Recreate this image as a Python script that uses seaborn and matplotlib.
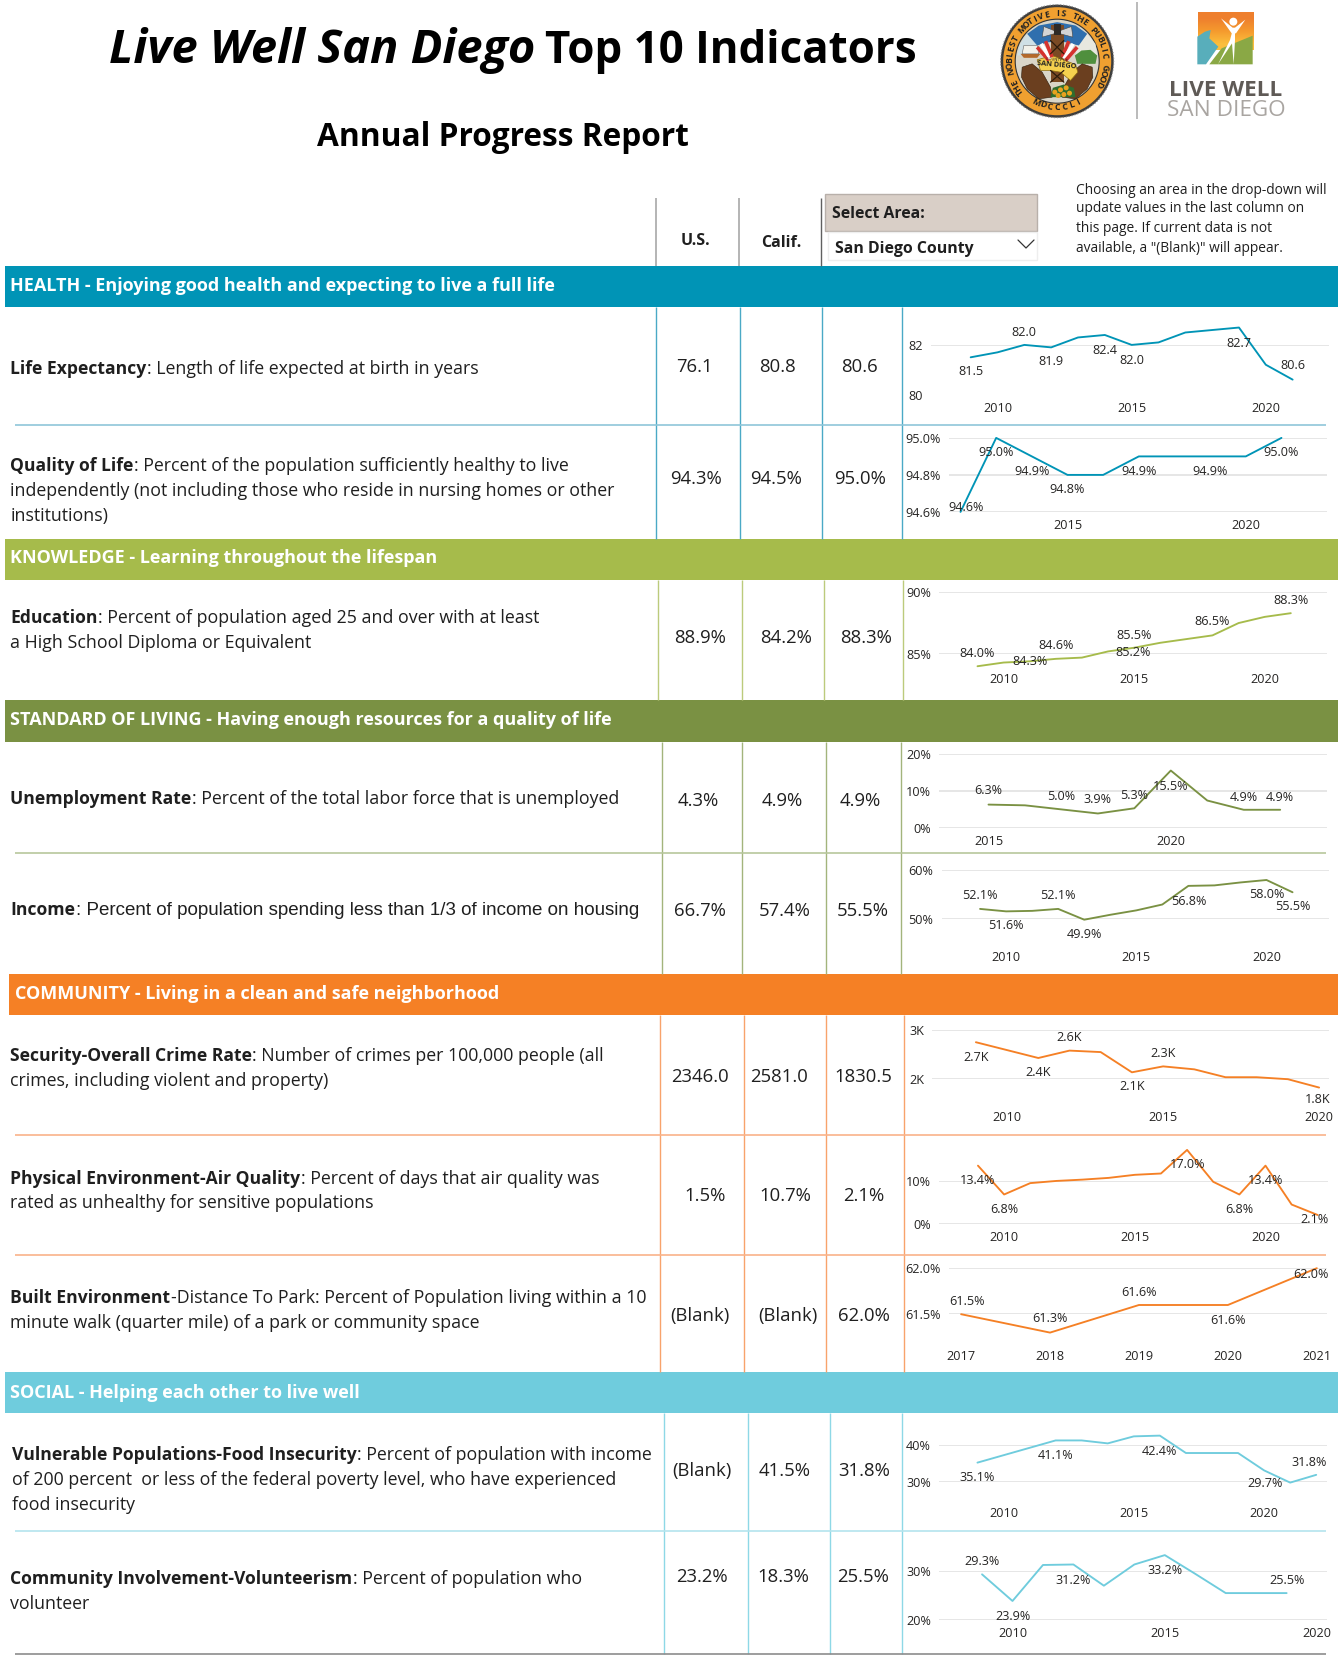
import math
import matplotlib
matplotlib.use("Agg")
import matplotlib.pyplot as plt
from matplotlib.patches import Rectangle, Ellipse, Polygon
from matplotlib.colors import LinearSegmentedColormap
import seaborn as sns

# ---------- data ----------
life_years = list(range(2009, 2022))
life_values = [81.5, 81.7, 82.0, 81.9, 82.3, 82.4, 82.0, 82.1, 82.5, 82.6, 82.7, 81.2, 80.6]
life_label_years = [2009, 2011, 2012, 2014, 2015, 2019, 2021]
life_label_texts = ["81.5", "82.0", "81.9", "82.4", "82.0", "82.7", "80.6"]

qol_years = list(range(2012, 2022))
qol_values = [94.6, 95.0, 94.9, 94.8, 94.8, 94.9, 94.9, 94.9, 94.9, 95.0]
qol_label_years = [2012, 2013, 2014, 2015, 2017, 2019, 2021]
qol_label_texts = ["94.6%", "95.0%", "94.9%", "94.8%", "94.9%", "94.9%", "95.0%"]

edu_years = list(range(2009, 2022))
edu_values = [84.0, 84.3, 84.4, 84.6, 84.7, 85.2, 85.5, 85.9, 86.2, 86.5, 87.5, 88.0, 88.3]
edu_label_years = [2009, 2011, 2012, 2014, 2015, 2018, 2021]
edu_label_texts = ["84.0%", "84.3%", "84.6%", "85.2%", "85.5%", "86.5%", "88.3%"]

unemp_years = list(range(2015, 2024))
unemp_values = [6.3, 6.1, 5.0, 3.9, 5.3, 15.5, 7.4, 4.9, 4.9]
unemp_label_years = [2015, 2017, 2018, 2019, 2020, 2022, 2023]
unemp_label_texts = ["6.3%", "5.0%", "3.9%", "5.3%", "15.5%", "4.9%", "4.9%"]

income_years = list(range(2009, 2022))
income_values = [52.1, 51.6, 51.7, 52.1, 49.9, 50.9, 51.8, 53.0, 56.8, 56.9, 57.5, 58.0, 55.5]
income_label_years = [2009, 2010, 2012, 2013, 2017, 2020, 2021]
income_label_texts = ["52.1%", "51.6%", "52.1%", "49.9%", "56.8%", "58.0%", "55.5%"]

crime_years = list(range(2009, 2021))
crime_values = [2750, 2590, 2430, 2580, 2550, 2140, 2260, 2200, 2040, 2040, 2000, 1830.5]
crime_label_years = [2009, 2011, 2012, 2014, 2015, 2020]
crime_label_texts = ["2.7K", "2.4K", "2.6K", "2.1K", "2.3K", "1.8K"]

air_years = list(range(2009, 2023))
air_values = [13.4, 6.8, 9.4, 9.9, 10.2, 10.6, 11.3, 11.6, 17.0, 9.7, 6.8, 13.4, 4.5, 2.1]
air_label_years = [2009, 2010, 2017, 2019, 2020, 2022]
air_label_texts = ["13.4%", "6.8%", "17.0%", "6.8%", "13.4%", "2.1%"]

park_years = [2017, 2018, 2019, 2020, 2021]
park_values = [61.5, 61.3, 61.6, 61.6, 62.0]
park_label_years = [2017, 2018, 2019, 2020, 2021]
park_label_texts = ["61.5%", "61.3%", "61.6%", "61.6%", "62.0%"]

food_years = list(range(2009, 2023))
food_values = [35.1, 37.1, 39.1, 41.1, 41.1, 40.3, 42.2, 42.4, 37.7, 37.7, 37.7, 33.0, 29.7, 31.8]
food_label_years = [2009, 2012, 2016, 2021, 2022]
food_label_texts = ["35.1%", "41.1%", "42.4%", "29.7%", "31.8%"]

vol_years = list(range(2009, 2020))
vol_values = [29.3, 23.9, 31.2, 31.3, 27.0, 31.3, 33.2, 29.4, 25.5, 25.5, 25.5]
vol_label_years = [2009, 2010, 2012, 2015, 2019]
vol_label_texts = ["29.3%", "23.9%", "31.2%", "33.2%", "25.5%"]

section_titles = [
    "HEALTH - Enjoying good health and expecting to live a full life",
    "KNOWLEDGE - Learning throughout the lifespan",
    "STANDARD OF LIVING - Having enough resources for a quality of life",
    "COMMUNITY - Living in a clean and safe neighborhood",
    "SOCIAL - Helping each other to live well",
]
us_cells = ["76.1", "94.3%", "88.9%", "4.3%", "66.7%", "2346.0", "1.5%", "(Blank)", "(Blank)", "23.2%"]
ca_cells = ["80.8", "94.5%", "84.2%", "4.9%", "57.4%", "2581.0", "10.7%", "(Blank)", "41.5%", "18.3%"]
sd_cells = ["80.6", "95.0%", "88.3%", "4.9%", "55.5%", "1830.5", "2.1%", "62.0%", "31.8%", "25.5%"]
row_bold = ["Life Expectancy", "Quality of Life", "Education", "Unemployment Rate", "Income",
            "Security-Overall Crime Rate", "Physical Environment-Air Quality", "Built Environment",
            "Vulnerable Populations-Food Insecurity", "Community Involvement-Volunteerism"]
row_lines = [
    [": Length of life expected at birth in years"],
    [": Percent of the population sufficiently healthy to live",
     "independently (not including those who reside in nursing homes or other", "institutions)"],
    [": Percent of population aged 25 and over with at least", "a High School Diploma or Equivalent"],
    [": Percent of the total labor force that is unemployed"],
    [": Percent of population spending less than 1/3 of income on housing"],
    [": Number of crimes per 100,000 people (all", "crimes, including violent and property)"],
    [": Percent of days that air quality was", "rated as unhealthy for sensitive populations"],
    ["-Distance To Park: Percent of Population living within a 10",
     "minute walk (quarter mile) of a park or community space"],
    [": Percent of population with income",
     "of 200 percent  or less of the federal poverty level, who have experienced", "food insecurity"],
    [": Percent of population who", "volunteer"],
]
note_lines = ["Choosing an area in the drop-down will", "update values in the last column on",
              'this page. If current data is not', 'available, a "(Blank)" will appear.']

# ---------- style ----------
sns.set_theme(style="white")
FONT = "Open Sans"
plt.rcParams["font.family"] = [FONT, "DejaVu Sans"]
W, H = 1342, 1660
TXT = "#1f1f1f"
CH = "#252423"
GRID = "#e3e3e3"
TEAL, LIME, OLIVE, ORANGE, SKY = "#0094b6", "#a6bb4b", "#7a9143", "#f58025", "#6fccdd"

fig = plt.figure(figsize=(W / 100, H / 100), dpi=100, facecolor="white")
bg = fig.add_axes([0, 0, 1, 1], zorder=0)
bg.set_xlim(0, W)
bg.set_ylim(H, 0)
bg.axis("off")
renderer = fig.canvas.get_renderer()


def band(x0, y0, y1, color, title, tx, ty):
    bg.add_patch(Rectangle((x0, y0), 1338 - x0, y1 - y0, fc=color, ec="none"))
    bg.text(tx, ty, title, color="white", fontsize=13.0, fontweight="bold", va="center", ha="left")


band(5, 266, 307, TEAL, section_titles[0], 10.5, 286)
band(5, 539, 580, LIME, section_titles[1], 10.5, 558)
band(5, 700, 742, OLIVE, section_titles[2], 10.5, 720)
band(9, 974, 1015, ORANGE, section_titles[3], 14.7, 994)
band(5, 1372, 1413, SKY, section_titles[4], 10.5, 1392.5)

# section vertical rules
for xs, y0, y1, c in [((656, 740, 822, 902), 307, 539, "#4aa9c6"),
                      ((658, 742, 824, 902.6), 580, 700, "#bccb7c"),
                      ((662, 742, 826, 901), 742, 974, "#a3b47c"),
                      ((660, 743.5, 826, 904), 1015, 1372, "#f8a36b"),
                      ((664, 748, 830, 902), 1413, 1654, "#8ed8e6")]:
    bg.vlines(xs, y0, y1, color=c, lw=1.0)
# row dividers
for y, c in [(425, "#8fc6d9"), (853, "#b7c79c"), (1135, "#fab38a"), (1255, "#fab38a"), (1531, "#b4e4ed")]:
    bg.hlines(y, 15, 1326, color=c, lw=1.2)
bg.hlines(1654, 15, 1326, color="#8c8c8c", lw=1.2)

# row text
row_x = [10.5] * 8 + [12.3, 10.5]
row_y = [[369], [466, 491, 516], [618, 643], [799], [910], [1056, 1081], [1179, 1203], [1298, 1322.5],
         [1454.5, 1479.5, 1504.5], [1579, 1604]]
for i, (b, lines) in enumerate(zip(row_bold, row_lines)):
    x, ys = row_x[i], row_y[i]
    t = bg.text(x, ys[0], b, color=TXT, fontsize=12.6, fontweight="bold", va="center", ha="left")
    ext = t.get_window_extent(renderer)
    if b == "Income":
        bg.text(ext.x1, ys[0], lines[0], color=TXT, fontsize=13.5, va="center", ha="left", family=["Liberation Sans"])
    else:
        bg.text(ext.x1, ys[0], lines[0], color=TXT, fontsize=12.8, va="center", ha="left")
    for ln, y in zip(lines[1:], ys[1:]):
        bg.text(x, y, ln, color=TXT, fontsize=12.8, va="center", ha="left")

# table cells
cell_x = [(694, 778, 860), (696, 776, 860), (700, 786, 866), (698, 782, 860), (700, 785, 863),
          (700, 779, 863), (705, 785, 864), (700, 788, 864), (702, 785, 864.5), (702, 783, 863)]
cell_y = [367, 478.5, 637.5, 801, 911, 1077, 1196, 1316, 1470.5, 1577]
for xs, y, a, b, c in zip(cell_x, cell_y, us_cells, ca_cells, sd_cells):
    for x, s in zip(xs, (a, b, c)):
        bg.text(x, y, s, color=TXT, fontsize=13.3, ha="center", va="center")

# header
bg.text(109.3, 51, "Live Well San Diego", fontsize=33.8, fontweight="bold", style="italic",
        color="black", va="center", ha="left")
bg.text(545.3, 51, "Top 10 Indicators", fontsize=31.6, fontweight="bold", color="black", va="center", ha="left")
bg.text(503, 137, "Annual Progress Report", fontsize=22.8, fontweight="bold", color="black", va="center", ha="center")
bg.vlines([656, 739], 198, 266, color="#a8a8a8", lw=1.2)
bg.vlines([821], 198, 266, color="#606060", lw=1.0)
bg.text(695, 241, "U.S.", fontsize=11.5, fontweight="bold", color=TXT, ha="center", va="center")
bg.text(781, 243, "Calif.", fontsize=11.5, fontweight="bold", color=TXT, ha="center", va="center")
bg.add_patch(Rectangle((824.5, 194), 212, 37, fc="#d9cfc7", ec="#b8b0aa", lw=1))
bg.text(832, 214.5, "Select Area:", fontsize=11.3, fontweight="bold", color=TXT, ha="left", va="center")
bg.add_patch(Rectangle((828, 232), 209, 28, fc="white", ec="#eeeeee", lw=1))
bg.text(835, 249, "San Diego County", fontsize=11.45, fontweight="bold", color=TXT, ha="left", va="center")
bg.plot([1018, 1026, 1034], [240, 248, 240], color="#333333", lw=0.9)
for ln, y in zip(note_lines, [190, 208, 228, 249]):
    bg.text(1075.5, y, ln, fontsize=9.95, color=TXT, ha="left", va="center")


# seal (decoration) — S maps local artwork units to page pixels
def S(pts):
    return [(995.5 + a / 3, 0.5 + b / 3) for a, b in pts]


cx, cy = 1057.2, 61.2
bg.add_patch(Ellipse((cx, cy), 113, 113, fc="#3d3d3d", ec="#8a8a8a", lw=0.8, ls=":"))
bg.add_patch(Ellipse((cx, cy), 108, 108, fc="#f0a030", ec="none"))
bg.add_patch(Ellipse((cx, cy), 84, 84, fc="#d9d5c8", ec="#333333", lw=0.8))
bg.add_patch(Polygon(S([(75, 128), (95, 100), (125, 135), (130, 165), (65, 165)]), fc="#cfe0e6", ec="none"))
bg.add_patch(Polygon(S([(245, 125), (275, 100), (300, 130), (305, 165), (240, 165)]), fc="#e8e8df", ec="none"))
bg.add_patch(Polygon(S([(95, 100), (130, 75), (185, 65), (240, 75), (275, 100), (250, 135), (210, 125), (160, 125), (125, 135)]),
                     fc="#2f6fae", ec="none"))
for p, q, c in [((125, 140), (160, 180), "#d5322e"), ((137, 130), (165, 175), "#ffffff"), ((150, 122), (170, 170), "#d5322e"),
                ((220, 122), (200, 170), "#d5322e"), ((233, 130), (205, 175), "#ffffff"), ((245, 140), (210, 180), "#d5322e")]:
    (a, b), (c2, d) = S([p, q])
    bg.plot([a, c2], [b, d], color=c, lw=2.6, solid_capstyle="butt")
bg.add_patch(Polygon(S([(238, 165), (258, 150), (285, 148), (305, 165), (300, 190), (245, 190)]), fc="#4f8f3d", ec="none"))
bg.add_patch(Polygon(S([(75, 160), (135, 160), (125, 172), (85, 172)]), fc="#b5692a", ec="none"))
bg.add_patch(Polygon(S([(85, 135), (125, 135), (130, 160), (80, 160)]), fc="#f1f1ea", ec="#666666", lw=0.4))
bg.add_patch(Polygon(S([(165, 75), (205, 75), (205, 245), (165, 245)]), fc="#7a4a24", ec="none"))
for p, q in [((165, 120), (205, 160)), ((205, 120), (165, 160)), ((165, 210), (205, 245)), ((205, 210), (165, 245))]:
    (a, b), (c2, d) = S([p, q])
    bg.plot([a, c2], [b, d], color="#2e1c0c", lw=0.9)
bg.add_patch(Polygon(S([(145, 78), (175, 90), (195, 90), (228, 78), (232, 110), (195, 100), (175, 100), (140, 110)]),
                     fc="#d4d4d4", ec="#444444", lw=0.4))
bg.add_patch(Polygon(S([(175, 70), (195, 70), (195, 105), (175, 105)]), fc="#2e2a26", ec="none"))
left_horn = [(80, 200), (110, 190), (140, 215), (165, 260), (170, 290), (130, 295), (95, 265), (78, 230)]
right_horn = [(370 - a, b) for a, b in left_horn]
bg.add_patch(Polygon(S(left_horn), fc="#6b3f1f", ec="#2e1c0c", lw=0.4))
bg.add_patch(Polygon(S(right_horn), fc="#6b3f1f", ec="#2e1c0c", lw=0.4))
bg.add_patch(Polygon(S([(165, 290), (172, 262), (205, 252), (235, 262), (240, 290)]), fc="#2f6d2f", ec="none"))
for a, b in [(178, 275), (195, 268), (212, 262), (205, 282), (222, 278), (188, 285)]:
    bg.add_patch(Ellipse(S([(a, b)])[0], 5, 5, fc="#e8a21f", ec="none"))
bg.add_patch(Polygon(S([(125, 178), (170, 165), (240, 192), (247, 215), (225, 240), (195, 215), (165, 210), (135, 210)]),
                     fc="#f5d14e", ec="#8a6a10", lw=0.5))
bg.text(*S([(185, 195)])[0], "SAN DIEGO", fontsize=5.2, color="#222222", ha="center", va="center", fontweight="bold", rotation=-5)
bg.text(*S([(185, 177)])[0], "COUNTY OF", fontsize=2.8, color="#222222", ha="center", va="center", rotation=-5)
seal_top = "THE NOBLEST MOTIVE IS THE PUBLIC GOOD"
a0, a1, r = -130, 118, 47.5
for i, ch in enumerate(seal_top):
    th = a0 + (a1 - a0) * i / (len(seal_top) - 1)
    bg.text(cx + r * math.sin(math.radians(th)), cy - r * math.cos(math.radians(th)), ch, fontsize=6.3,
            fontweight="bold", color="#222222", rotation=-th, rotation_mode="anchor", ha="center", va="center")
seal_bot = "MDCCCLI"
for i, ch in enumerate(seal_bot):
    ph = -27 + 54 * i / (len(seal_bot) - 1)
    bg.text(cx + 46 * math.sin(math.radians(ph)), cy + 46 * math.cos(math.radians(ph)), ch, fontsize=6.3,
            fontweight="bold", color="#222222", rotation=ph, rotation_mode="anchor", ha="center", va="center")


# logo (decoration)
def L(pts):
    return [(1190 + a / 3, 5 + b / 3) for a, b in pts]


bg.vlines([1136.5], 2, 119, color="#b5b5b5", lw=1.3)
cmap = LinearSegmentedColormap.from_list("l", ["#ee7f2d", "#f59a2e", "#fbbe3c"])
bg.imshow([[0], [1], [2]], cmap=cmap, extent=(1197.5, 1253, 50, 12.3), aspect="auto", interpolation="bilinear", zorder=1)
bg.set_xlim(0, W)
bg.set_ylim(H, 0)
bg.add_patch(Polygon(L([(22, 95), (45, 80), (62, 75), (58, 100), (85, 125), (48, 178), (22, 178)]), fc="#58aebb", ec="none", zorder=2))
bg.add_patch(Polygon(L([(58, 178), (95, 130), (188, 92), (188, 178)]), fc="#8aa845", ec="none", zorder=2))
bg.add_patch(Polygon(L([(84, 178), (120, 105), (128, 75), (135, 75), (135, 105), (131, 178), (126, 115)]), fc="white", ec="none", zorder=3))
bg.add_patch(Polygon(L([(93, 40), (128, 68), (135, 68), (166, 44), (138, 85), (125, 85)]), fc="white", ec="none", zorder=3))
bg.add_patch(Ellipse(L([(130, 50)])[0], 8, 8, fc="white", ec="none", zorder=3))
bg.text(1226, 90, "LIVE WELL", fontsize=16.2, color="#5f5a56", ha="center", va="center", fontweight="bold")
bg.text(1226, 110, "SAN DIEGO", fontsize=16.2, color="#a9a5a1", ha="center", va="center")


def spark(years, values, lab_years, lab_texts, lab_offsets, color, x_span, x_anchor, y_ticks, y_px, y_labels,
          x_ticks, x_label_y):
    x0, x1 = x_span
    y_px = [p - 0.8 for p in y_px]
    py_top, py_bot = min(y_px), max(y_px)
    ax = fig.add_axes([x0 / W, 1 - py_bot / H, (x1 - x0) / W, (py_bot - py_top) / H], zorder=2)
    ax.patch.set_alpha(0)
    (ya, pa), (yb, pb) = x_anchor
    pa, pb = pa + 0.8, pb + 0.8
    k = (pb - pa) / (yb - ya)
    ax.set_xlim(ya + (x0 - pa) / k, ya + (x1 - pa) / k)
    sns.lineplot(x=years, y=values, color=color, linewidth=1.35, ax=ax, legend=False, errorbar=None, clip_on=False)
    ax.set_ylim(min(y_ticks), max(y_ticks))
    ax.set_xlabel("")
    ax.set_ylabel("")
    ax.set_yticks(y_ticks)
    ax.set_yticklabels(y_labels)
    ax.set_xticks(x_ticks)
    ax.set_xticklabels([str(v) for v in x_ticks])
    ax.tick_params(axis="y", length=0, pad=6, labelsize=9.1, labelcolor=CH)
    ax.tick_params(axis="x", length=0, pad=(x_label_y + 1 - py_bot - 6.5) * 0.72, labelsize=9.1, labelcolor=CH)
    ax.grid(axis="y", color=GRID, lw=1.25, zorder=0)
    ax.grid(axis="x", visible=False)
    for s in ax.spines.values():
        s.set_visible(False)
    ax.set_axisbelow(True)
    lookup = dict(zip(years, values))
    for yr, txt, (dx, dy) in zip(lab_years, lab_texts, lab_offsets):
        ax.annotate(txt, (yr, lookup[yr]), xytext=(dx, -(dy + 0.6)), textcoords="offset pixels", ha="center", va="center",
                    fontsize=9.1, color=CH, annotation_clip=False, zorder=5)
    return ax


spark(life_years, life_values, life_label_years, life_label_texts,
      [(0, 14), (0, -13.3), (0, 14), (0, 14.7), (0, 14.7), (0, 15), (0, -14.7)], TEAL,
      (931, 1329), ((2010, 996.7), (2020, 1265)), [80, 82], [395.3, 345.7], ["80", "82"], [2010, 2015, 2020], 407.7)
spark(qol_years, qol_values, qol_label_years, qol_label_texts,
      [(6, -5), (0, 14), (0, 15), (0, 14), (0, 15), (0, 15), (0, 14)], TEAL,
      (949, 1327), ((2015, 1066.7), (2020, 1245)), [94.6, 94.8, 95.0], [512.7, 475.7, 438.7],
      ["94.6%", "94.8%", "95.0%"], [2015, 2020], 524.7)
spark(edu_years, edu_values, edu_label_years, edu_label_texts,
      [(0, -13.3), (0, -0.7), (0, -14.3), (25, 0.7), (0, -13), (0, -14), (0, -13.3)], LIME,
      (939.3, 1327.3), ((2009, 976.7), (2021, 1290)), [85, 90], [654.7, 593], ["85%", "90%"], [2010, 2015, 2020], 678.7)
spark(unemp_years, unemp_values, unemp_label_years, unemp_label_texts,
      [(0, -14.3), (0, -13.7), (0, -14.3), (0, -13.7), (0, 15), (0, -13.3), (0, -13.3)], OLIVE,
      (939.3, 1327.3), ((2015, 987.7), (2020, 1170)), [0, 10, 20], [828.7, 791.7, 754.7], ["0%", "10%", "20%"],
      [2015, 2020], 840.7)
spark(income_years, income_values, income_label_years, income_label_texts,
      [(0, -13.7), (0, 14), (0, -13.7), (0, 14.3), (0, 14.7), (0, 14), (0, 14)], OLIVE,
      (941.7, 1329.3), ((2010, 1005.3), (2020, 1265.7)), [50, 60], [920, 871], ["50%", "60%"], [2010, 2015, 2020], 956.7)
spark(crime_years, crime_values, crime_label_years, crime_label_texts,
      [(0, 14.7), (0, 14), (0, -13.3), (0, 14), (0, -13.3), (-1, 11.3)], ORANGE,
      (932.3, 1329.3), ((2010, 1006.3), (2020, 1318.3)), [2000, 3000], [1080, 1030.7], ["2K", "3K"],
      [2010, 2015, 2020], 1116.7)
spark(air_years, air_values, air_label_years, air_label_texts,
      [(0, 14.3), (0, 14.3), (0, 14.3), (0, 14.3), (0, 14.3), (-3.3, 4)], ORANGE,
      (939.3, 1328.3), ((2010, 1003.3), (2020, 1264.7)), [0, 10], [1225, 1181.3], ["0%", "10%"], [2010, 2015, 2020], 1236.7)
spark(park_years, park_values, park_label_years, park_label_texts,
      [(6, -13.7), (0, -14.3), (0, -13.3), (0, 14.7), (-6, 5.3)], ORANGE,
      (949, 1327.3), ((2017, 960.3), (2021, 1316)), [61.5, 62.0], [1315, 1269], ["61.5%", "62.0%"],
      [2017, 2018, 2019, 2020, 2021], 1355)
spark(food_years, food_values, food_label_years, food_label_texts,
      [(0, 14.3), (0, 14.3), (0, 15), (-25, 0), (-6.7, -13)], SKY,
      (939.3, 1327.3), ((2010, 1002.7), (2020, 1263.3)), [30, 40], [1482.3, 1445.3], ["30%", "40%"], [2010, 2015, 2020], 1512.7)
spark(vol_years, vol_values, vol_label_years, vol_label_texts,
      [(0, -13.3), (0, 14.7), (0, 15), (0, 15), (0, -13)], SKY,
      (939.3, 1327.3), ((2010, 1011.7), (2020, 1316.3)), [20, 30], [1621, 1571.7], ["20%", "30%"], [2010, 2015, 2020], 1632.7)

fig.savefig("out.png", dpi=100, facecolor="white")
